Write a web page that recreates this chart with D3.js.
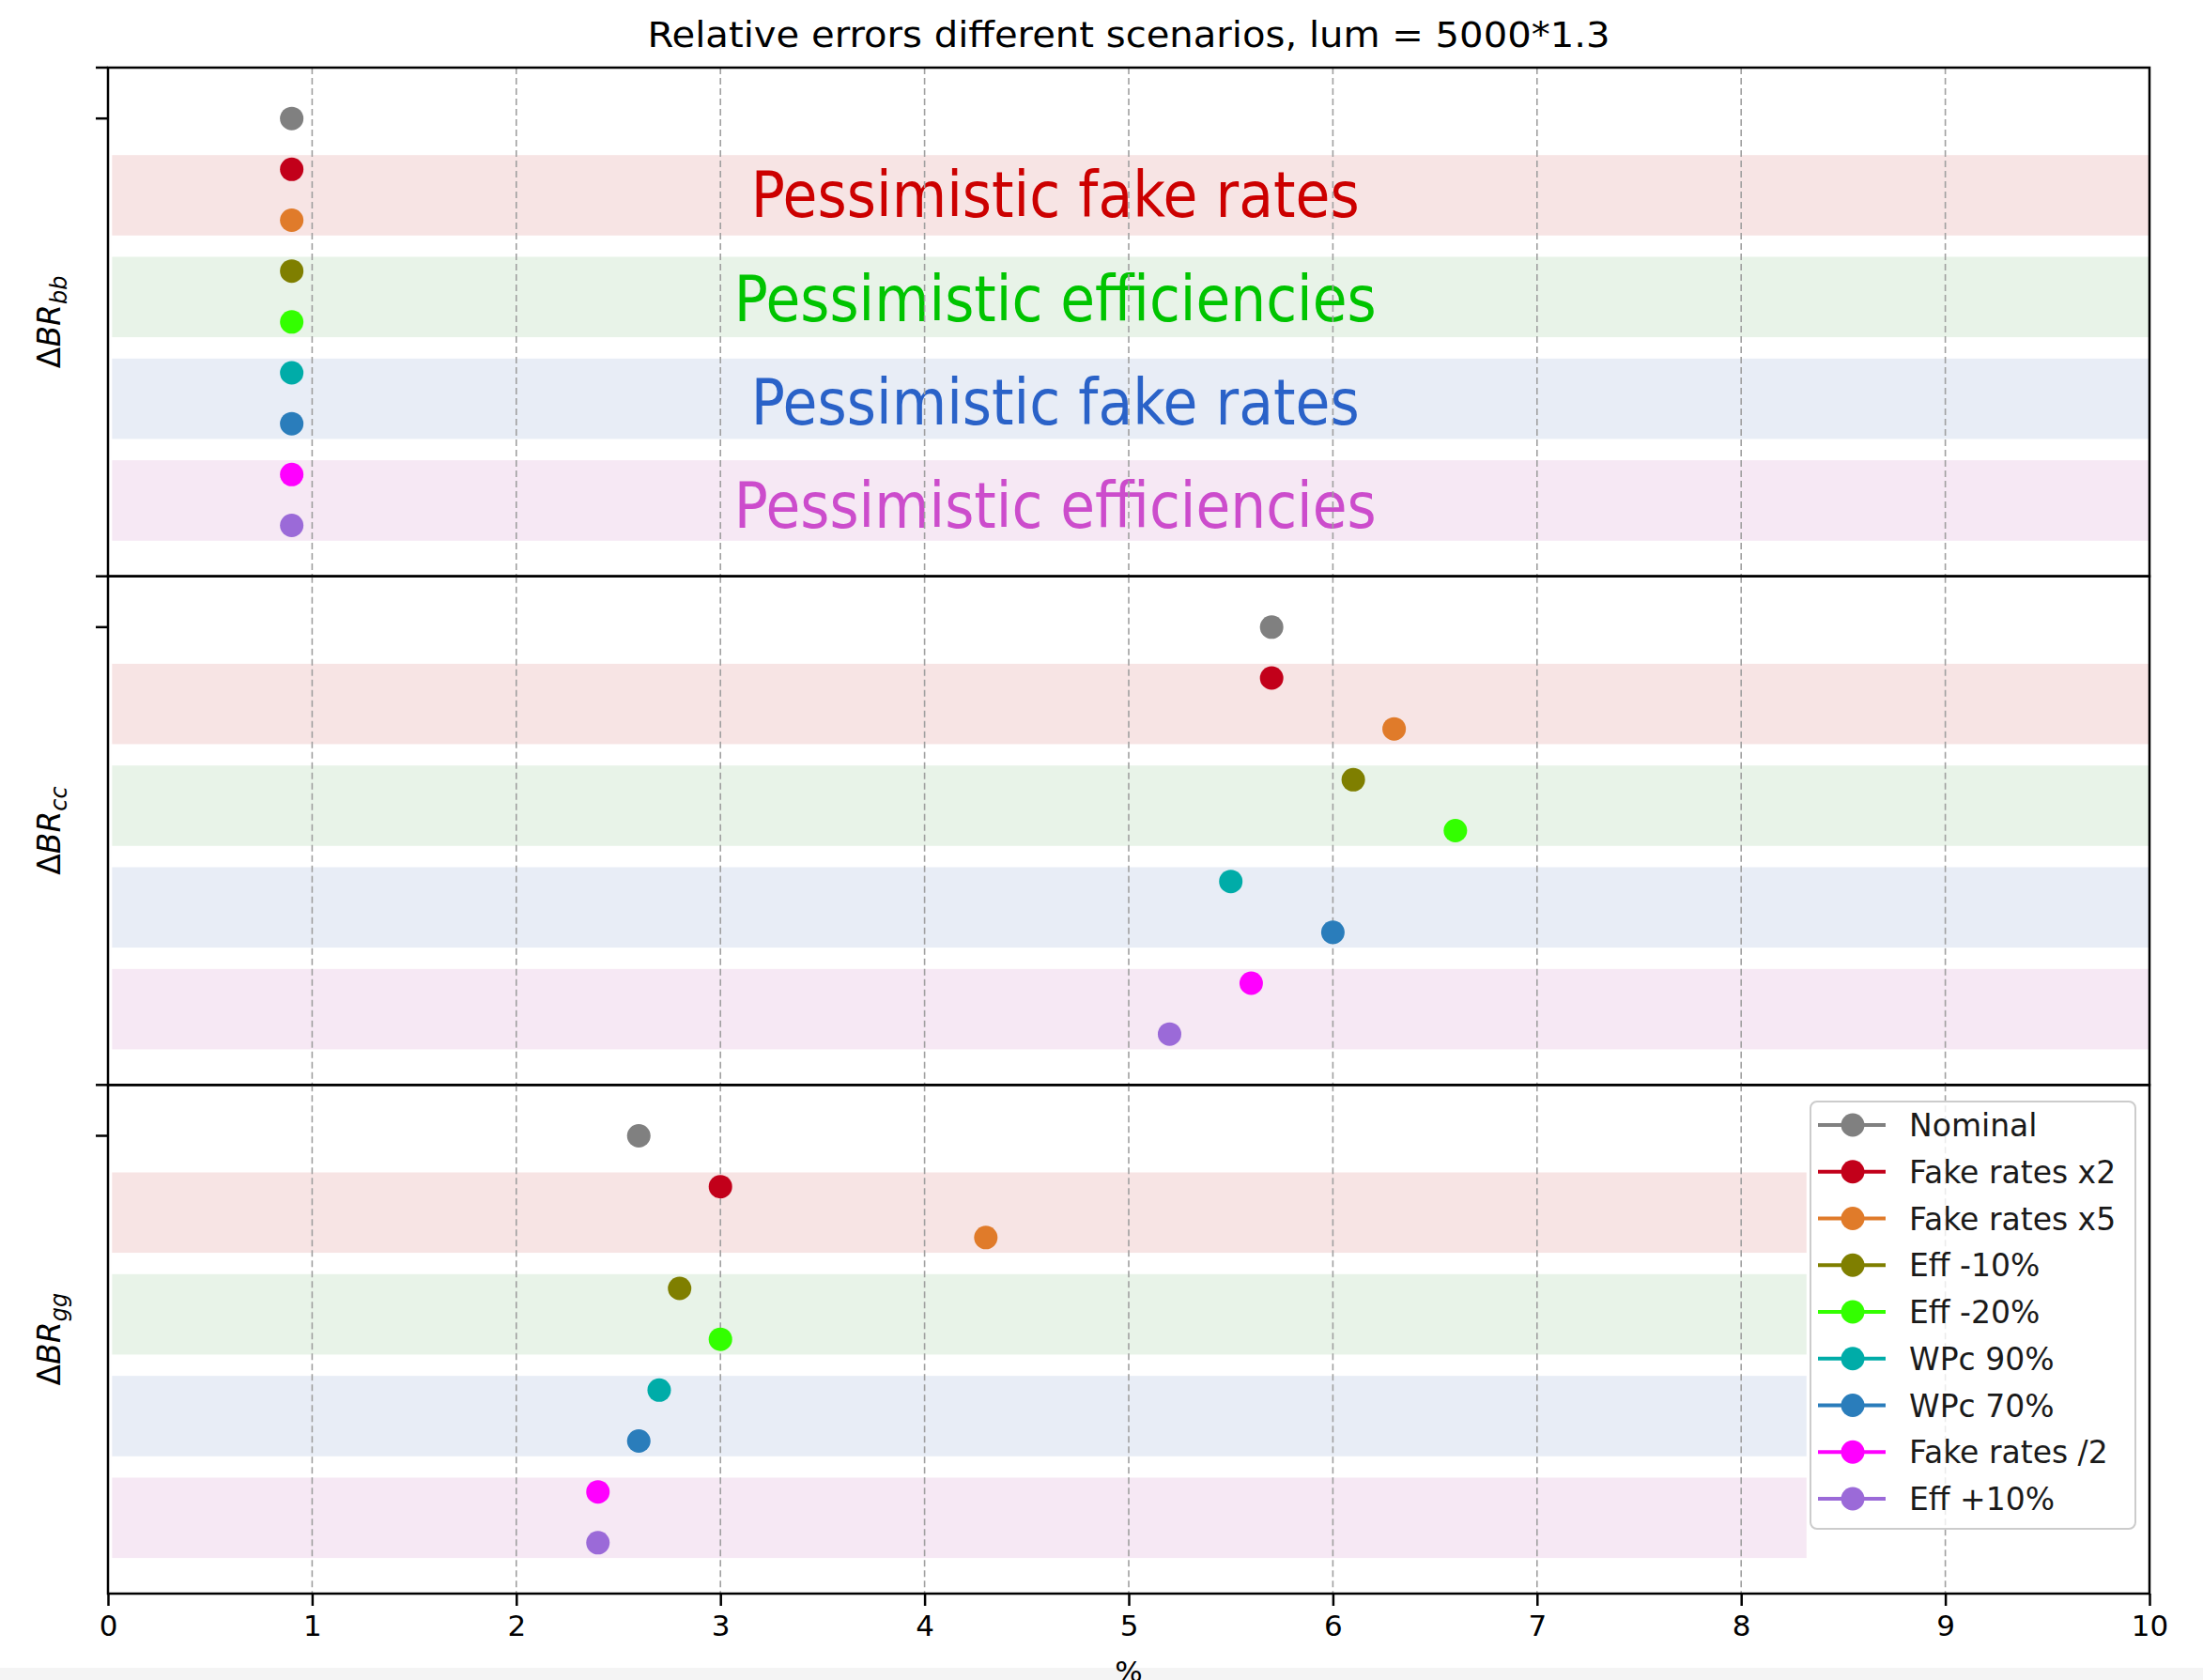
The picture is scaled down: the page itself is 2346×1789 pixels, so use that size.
<!doctype html>
<html>
<head>
<meta charset="utf-8">
<title>Relative errors different scenarios</title>
<script src="https://cdn.jsdelivr.net/npm/d3@7"></script>
<style>
  body { margin: 0; background: #fff; }
  text { font-family: "DejaVu Sans", sans-serif; }
</style>
</head>
<body>
<script>
// scenarios, in plotting order (top to bottom in each panel)
var scenarios = ['Nominal', 'Fake rates x2', 'Fake rates x5', 'Eff -10%', 'Eff -20%',
                 'WPc 90%', 'WPc 70%', 'Fake rates /2', 'Eff +10%'];
var colors = ['#808080', '#c2001a', '#e07b2a', '#7f7f00', '#33ff00',
              '#00aca8', '#2a7dbb', '#ff00ff', '#9b6ad8'];

// relative error (%) per scenario
var valuesBB = [0.9, 0.9, 0.9, 0.9, 0.9, 0.9, 0.9, 0.9, 0.9];
var valuesCC = [5.7, 5.7, 6.3, 6.1, 6.6, 5.5, 6.0, 5.6, 5.2];
var valuesGG = [2.6, 3.0, 4.3, 2.8, 3.0, 2.7, 2.6, 2.4, 2.4];

var panelNames = ['bb', 'cc', 'gg'];
var panelValues = [valuesBB, valuesCC, valuesGG];

var xTicks = [0, 1, 2, 3, 4, 5, 6, 7, 8, 9, 10];

// shaded groups: first scenario index of each pair
var bandStarts = [1, 3, 5, 7];
var bandLabels = ['Pessimistic fake rates', 'Pessimistic efficiencies',
                  'Pessimistic fake rates', 'Pessimistic efficiencies'];
var bandXEnd = [10, 10, 8.32];

var bandFill = ['#f7e4e4', '#e8f3e8', '#e8edf6', '#f6e8f4'];
var bandText = ['#cc0000', '#00c400', '#2a62c8', '#cc4ccc'];

var W = 2346, H = 1789;
var mLeft = 115, mRight = 2289, mTop = 72, mBottom = 1697;
var panelH = (mBottom - mTop) / 3;

var svg = d3.select('body').append('svg')
    .attr('width', W)
    .attr('height', H);

var x = d3.scaleLinear().domain([0, 10]).range([mLeft, mRight]);

// light strip at the very bottom of the picture
svg.append('rect')
    .attr('x', 0).attr('y', 1776).attr('width', W).attr('height', H - 1776)
    .attr('fill', '#f4f4f4');

panelNames.forEach(function(name, p) {
    var y0 = mTop + p * panelH;
    var y = d3.scaleLinear().domain([-1, 9]).range([y0, y0 + panelH]);
    var g = svg.append('g');

    // shaded bands
    g.selectAll('rect.band').data(bandStarts).enter().append('rect')
        .attr('class', 'band')
        .attr('x', x(0.02))
        .attr('width', x(bandXEnd[p]) - x(0.02))
        .attr('y', function(d){ return y(d - 0.28); })
        .attr('height', function(d){ return y(d + 1.3) - y(d - 0.28); })
        .attr('fill', function(d, i){ return bandFill[i]; });

    // band annotations only on the first panel
    if (p === 0) {
        g.selectAll('text.band').data(bandStarts).enter().append('text')
            .attr('class', 'band')
            .attr('x', x(4.64))
            .attr('y', function(d, i){ return y(d + 0.5) + 24 + i * 2; })
            .attr('text-anchor', 'middle')
            .style('font-family', '"DejaVu Sans Condensed", "DejaVu Sans", sans-serif')
            .style('font-size', '67px')
            .attr('textLength', function(d, i){ return i % 2 ? 684 : 648; })
            .attr('lengthAdjust', 'spacingAndGlyphs')
            .attr('fill', function(d, i){ return bandText[i]; })
            .text(function(d, i){ return bandLabels[i]; });
    }

    // vertical dashed grid
    g.selectAll('line.grid').data(xTicks.slice(1, -1)).enter().append('line')
        .attr('class', 'grid')
        .attr('x1', x).attr('x2', x)
        .attr('y1', y0).attr('y2', y0 + panelH)
        .attr('stroke', '#a0a0a0')
        .attr('stroke-width', 1.6)
        .attr('stroke-dasharray', '7,4');

    // points
    g.selectAll('circle').data(panelValues[p]).enter().append('circle')
        .attr('cx', function(d){ return x(d); })
        .attr('cy', function(d, i){ return y(i); })
        .attr('r', 12.5)
        .attr('fill', function(d, i){ return colors[i]; });

    // frame
    g.append('rect')
        .attr('x', mLeft).attr('y', y0)
        .attr('width', mRight - mLeft).attr('height', panelH)
        .attr('fill', 'none')
        .attr('stroke', '#000')
        .attr('stroke-width', 2.5);

    // y ticks: panel top and first point
    g.selectAll('line.ytick').data([-1, 0]).enter().append('line')
        .attr('class', 'ytick')
        .attr('x1', mLeft - 13).attr('x2', mLeft)
        .attr('y1', y).attr('y2', y)
        .attr('stroke', '#000')
        .attr('stroke-width', 2.5);

    // y label: ΔBR_xx
    var lab = g.append('text')
        .attr('transform', 'translate(64,' + (y0 + panelH / 2) + ') rotate(-90)')
        .attr('text-anchor', 'middle')
        .style('font-size', '33px')
        .attr('fill', '#000');
    lab.append('tspan').text('Δ');
    lab.append('tspan').style('font-style', 'italic').text('BR');
    lab.append('tspan').style('font-style', 'italic').style('font-size', '24px')
        .attr('dy', 7).text(name);
});

// x axis
var xAxis = d3.axisBottom(x).tickValues(xTicks).tickSize(13).tickPadding(10)
    .tickFormat(d3.format('d'));
var ax = svg.append('g')
    .attr('transform', 'translate(0,' + mBottom + ')')
    .call(xAxis);
ax.select('.domain').remove();
ax.selectAll('line').attr('stroke-width', 2.5);
ax.selectAll('text').style('font-size', '31px').style('font-family', '"DejaVu Sans", sans-serif');

svg.append('text')
    .attr('x', (mLeft + mRight) / 2)
    .attr('y', 1791)
    .attr('text-anchor', 'middle')
    .style('font-size', '31px')
    .text('%');

// title
svg.append('text')
    .attr('x', (mLeft + mRight) / 2)
    .attr('y', 50)
    .attr('text-anchor', 'middle')
    .style('font-size', '37px')
    .attr('textLength', 1025)
    .attr('lengthAdjust', 'spacingAndGlyphs')
    .text('Relative errors different scenarios, lum = 5000*1.3');

// legend
var lg = svg.append('g').attr('transform', 'translate(1928,1173)');
lg.append('rect')
    .attr('width', 346).attr('height', 455)
    .attr('rx', 7)
    .attr('fill', '#fff').attr('fill-opacity', 0.8)
    .attr('stroke', '#cccccc').attr('stroke-width', 2);
var item = lg.selectAll('g.item').data(scenarios).enter().append('g')
    .attr('class', 'item')
    .attr('transform', function(d, i){ return 'translate(0,' + (25 + i * 49.75) + ')'; });
item.append('line')
    .attr('x1', 8).attr('x2', 80)
    .attr('stroke', function(d, i){ return colors[i]; })
    .attr('stroke-width', 4);
item.append('circle')
    .attr('cx', 45).attr('r', 12.5)
    .attr('fill', function(d, i){ return colors[i]; });
item.append('text')
    .attr('x', 105).attr('y', 12)
    .style('font-size', '33px')
    .attr('fill', '#1a1a1a')
    .text(function(d){ return d; });
</script>
</body>
</html>
